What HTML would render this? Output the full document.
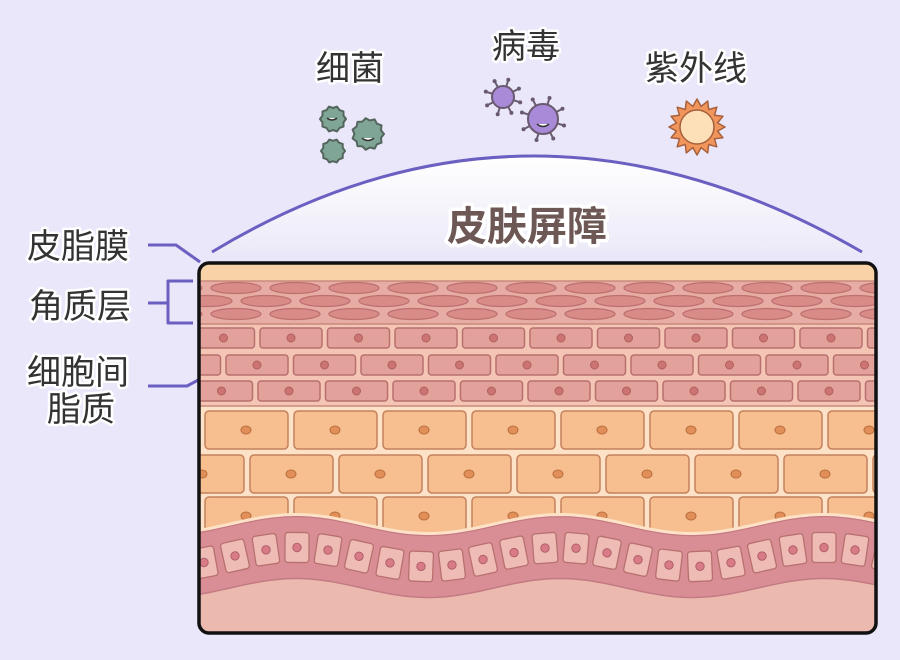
<!DOCTYPE html>
<html><head><meta charset="utf-8"><style>
html,body{margin:0;padding:0;background:#e9e7f9;}
svg{display:block}
text{font-family:"Liberation Sans","Noto Sans CJK SC",sans-serif;}
</style></head><body>
<svg id="s" width="900" height="660" viewBox="0 0 900 660" xmlns="http://www.w3.org/2000/svg">
<defs>
<linearGradient id="dome" x1="0" y1="0" x2="0" y2="1">
<stop offset="0" stop-color="#ffffff"/><stop offset="1" stop-color="#eceaf8"/>
</linearGradient>
<clipPath id="box"><rect x="199" y="263" width="677" height="370" rx="10"/></clipPath>
</defs>
<rect width="900" height="660" fill="#e9e7f9"/>
<path d="M212,252 Q530,60 862,252 Z" fill="url(#dome)"/>
<path d="M212,252 Q530,60 862,252" fill="none" stroke="#6b5fc2" stroke-width="3"/>
<text x="527" y="240" font-size="40" font-weight="bold" text-anchor="middle" fill="#6e5855" stroke="#fff" stroke-width="7" paint-order="stroke" stroke-linejoin="round">皮肤屏障</text>
<g font-size="34" fill="#333" stroke="#fff" stroke-width="5" paint-order="stroke" stroke-linejoin="round">
<text x="350" y="80" text-anchor="middle">细菌</text>
<text x="526" y="58" text-anchor="middle">病毒</text>
<text x="696" y="80" text-anchor="middle">紫外线</text>
<text x="27" y="258">皮脂膜</text>
<text x="29" y="318">角质层</text>
<text x="27" y="384">细胞间</text>
<text x="47" y="421">脂质</text>
</g>
<g fill="none" stroke="#6b5fc2" stroke-width="3" stroke-linejoin="round">
<path d="M148,245 H176 L200,262"/>
<path d="M148,303 H168 M193,281 H168 V323 H193"/>
<path d="M148,386 H187 L202,378"/>
</g>
<g id="icons"></g>
<g clip-path="url(#box)" id="skin"></g>
<rect x="199" y="263" width="677" height="370" rx="10" fill="none" stroke="#111" stroke-width="3.5"/>
</svg>
<script>
(function(){
var NS="http://www.w3.org/2000/svg";
function el(p,t,a){var e=document.createElementNS(NS,t);for(var k in a)e.setAttribute(k,a[k]);p.appendChild(e);return e;}
var sk=document.getElementById('skin');
el(sk,'rect',{x:190,y:255,width:700,height:390,fill:'#ebb9ad'});
el(sk,'rect',{x:190,y:255,width:700,height:27,fill:'#f9d2a8'});
el(sk,'rect',{x:190,y:281,width:700,height:44,fill:'#e7aca4'});
el(sk,'line',{x1:190,y1:281,x2:890,y2:281,stroke:'#c98a7c','stroke-width':1.5});
[[288,236],[301,207],[314,236]].forEach(function(r){for(var x=r[1]-118;x<900;x+=59){el(sk,'ellipse',{cx:x,cy:r[0],rx:25,ry:5.5,fill:'#d98b88',stroke:'#bd7070','stroke-width':1.2});}});
el(sk,'rect',{x:190,y:324,width:700,height:83,fill:'#f4c4b4'});
el(sk,'line',{x1:190,y1:324,x2:890,y2:324,stroke:'#c98a7c','stroke-width':1.5});
[[328,260],[355,226],[381,258]].forEach(function(r){for(var x=r[1]-135;x<900;x+=67.5){el(sk,'rect',{x:x,y:r[0],width:62,height:20,rx:3,fill:'#e3a19c',stroke:'#b8706e','stroke-width':1.5});el(sk,'circle',{cx:x+31,cy:r[0]+10,r:4,fill:'#cc7473',stroke:'#b06060','stroke-width':1});}});
el(sk,'rect',{x:190,y:406,width:700,height:140,fill:'#fde2c8'});
el(sk,'line',{x1:190,y1:406,x2:890,y2:406,stroke:'#c98a7c','stroke-width':1.5});
[[411,205],[455,250],[497,205]].forEach(function(r){for(var x=r[1]-178;x<900;x+=89){el(sk,'rect',{x:x,y:r[0],width:83,height:r[0]==497?60:38,rx:4,fill:'#f7bf90',stroke:'#c4815c','stroke-width':1.5});el(sk,'ellipse',{cx:x+41,cy:r[0]+19,rx:5,ry:4,fill:'#e28e58',stroke:'#b8703f','stroke-width':1});}});
function cy(x){return 557-9.5*Math.cos(2*Math.PI*(x-296)/264);}
var tp='',bt='';
for(var x=190;x<=890;x+=5){tp+=(x==190?'M':'L')+x+','+(cy(x)-31).toFixed(1)+' ';}
for(var x=890;x>=190;x-=5){bt+='L'+x+','+(cy(x)+31).toFixed(1)+' ';}
el(sk,'path',{d:tp+'L890,660 L190,660 Z',fill:'#ebb9ad'});
el(sk,'path',{d:tp+bt+'Z',fill:'#d98e96',stroke:'#c47a83','stroke-width':1.5});
el(sk,'path',{d:tp,fill:'none',stroke:'#fde2c8','stroke-width':3,transform:'translate(0,-2)'});
for(var x=204;x<900;x+=31){var y=cy(x);var sl=(cy(x+1)-cy(x-1))/2;var a=Math.atan(sl)*180/Math.PI;
var g=el(sk,'g',{transform:'translate('+x+','+y.toFixed(1)+') rotate('+a.toFixed(1)+')'});
el(g,'rect',{x:-12,y:-15,width:24,height:30,rx:3,fill:'#eebcb5',stroke:'#b8706e','stroke-width':1.3});
el(g,'circle',{cx:0,cy:0,r:4.2,fill:'#d97b86',stroke:'#b0606a','stroke-width':1});}
var ic=document.getElementById('icons');
function blob(cx,cyy,r,n,fill,st){var d='';for(var i=0;i<=n*2;i++){var an=i*Math.PI/n;var rr=i%2?r*0.85:r;d+=(i?'L':'M')+(cx+rr*Math.cos(an)).toFixed(1)+','+(cyy+rr*Math.sin(an)).toFixed(1);}el(ic,'path',{d:d+'Z',fill:fill,stroke:st,'stroke-width':2,'stroke-linejoin':'round'});}
blob(333,119,13,10,'#7fa597','#54655c');blob(368,134,16,11,'#7fa597','#54655c');blob(333,151,12,10,'#7fa597','#54655c');
el(ic,'path',{d:'M327,118 q5,4 10,0',stroke:'#333',fill:'#fff','stroke-width':1.5});
el(ic,'path',{d:'M362,138 q6,5 12,0',stroke:'#333',fill:'#fff','stroke-width':1.5});
function virus(cx,cyy,r){for(var i=0;i<8;i++){var a=i*Math.PI/4+0.3;var x1=cx+r*Math.cos(a),y1=cyy+r*Math.sin(a),x2=cx+(r+7)*Math.cos(a),y2=cyy+(r+7)*Math.sin(a);el(ic,'line',{x1:x1,y1:y1,x2:x2,y2:y2,stroke:'#6a5a70','stroke-width':2});el(ic,'circle',{cx:x2,cy:y2,r:2,fill:'#6a5a70'});}
el(ic,'circle',{cx:cx,cy:cyy,r:r,fill:'#a98ad8',stroke:'#6a5a70','stroke-width':2});}
virus(503,97,11);virus(543,119,15);
el(ic,'path',{d:'M537,124 q6,5 12,0',stroke:'#333',fill:'#fff','stroke-width':1.5});
var d='';for(var i=0;i<32;i++){var a=i*Math.PI/16;var rr=i%2?21:28;d+=(i?'L':'M')+(697+rr*Math.cos(a)).toFixed(1)+','+(127+rr*Math.sin(a)).toFixed(1);}
el(ic,'path',{d:d+'Z',fill:'#f0965c',stroke:'#a8603c','stroke-width':1.5,'stroke-linejoin':'round'});
el(ic,'circle',{cx:697,cy:127,r:17,fill:'#fde0b8',stroke:'#a8603c','stroke-width':1.5});
})();
</script>
</body></html>
